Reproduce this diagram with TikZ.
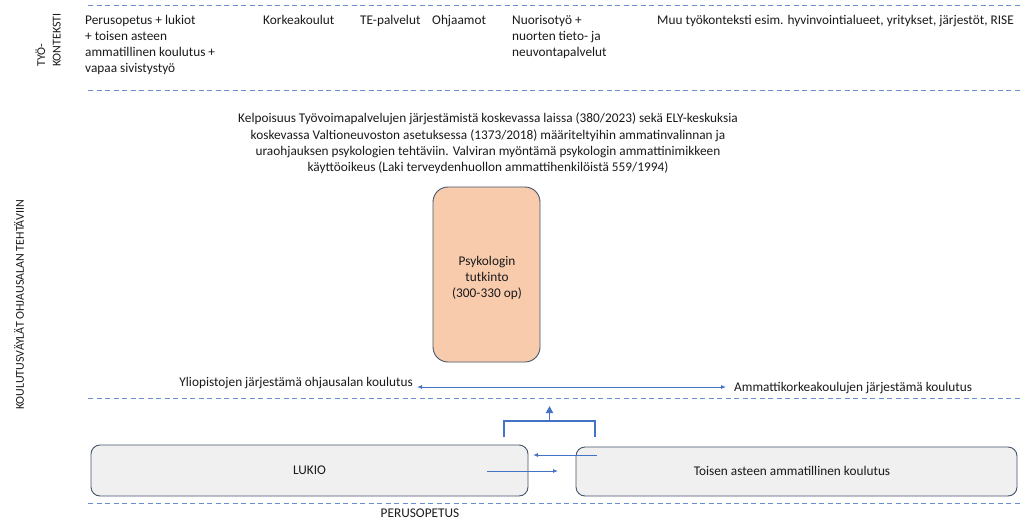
\documentclass[tikz,border=0pt]{standalone}
\usepackage{fontspec}
\setmainfont{Carlito}
\usetikzlibrary{arrows.meta}
\definecolor{accblue}{HTML}{4472C4}
\definecolor{peach}{HTML}{F8CBAD}
\definecolor{boxgray}{HTML}{F0F0F0}
\definecolor{edgedark}{HTML}{44546A}
\definecolor{txt}{HTML}{1A1A1A}
\tikzset{
  lbl/.style={font=\fontsize{13.3}{15.7}\selectfont, text=txt, inner sep=0pt},
  paralbl/.style={font=\fontsize{13.3}{16.1}\selectfont, text=txt, inner sep=0pt},
  sidelbl/.style={font=\fontsize{12}{15.5}\selectfont, text=txt, inner sep=0pt},
  sepline/.style={accblue!80, line width=1pt, dash pattern=on 5pt off 3.5pt},
  flowarrow/.style={accblue, line width=0.9pt, -{Latex[length=5pt,width=4pt]}},
  bracketline/.style={accblue, line width=1.8pt},
  roundbox/.style={draw=edgedark, line width=0.9pt, rounded corners=9pt, fill=boxgray}
}
\begin{document}
\begin{tikzpicture}[x=1pt,y=-1pt]
\useasboundingbox (0,0) rectangle (1021,520);
% separator lines
\draw[sepline] (88,5) -- (1021,5);
\draw[sepline] (88,90) -- (1021,90);
\draw[sepline] (88,398) -- (1021,398);
\draw[sepline] (88,503) -- (1021,503);
% side titles
\node[sidelbl, rotate=90, align=left, anchor=center] (tyo) at (48,40) {TYÖ-\\KONTEKSTI};
\node[sidelbl, rotate=90, anchor=center] (koul) at (19,305) {KOULUTUSVÄYLÄT OHJAUSALAN TEHTÄVIIN};
% top row
\node[lbl, align=left, anchor=north west] (peru) at (85,15.5) {Perusopetus + lukiot\\+ toisen asteen\\ammatillinen koulutus +\\vapaa sivistystyö};
\node[lbl, anchor=north west] (korkea) at (263,15.5) {Korkeakoulut};
\node[lbl, anchor=north west] (te) at (360,15.5) {TE-palvelut};
\node[lbl, anchor=north west] (ohj) at (432,15.5) {Ohjaamot};
\node[lbl, align=left, anchor=north west] (nuor) at (512,15.5) {Nuorisotyö +\\nuorten tieto- ja\\neuvontapalvelut};
\node[lbl, anchor=north west] (muu) at (657,15.5) {Muu työkonteksti esim. hyvinvointialueet, yritykset, järjestöt, RISE};
% paragraph
\node[paralbl, align=center, anchor=north] (kelp) at (488,113) {Kelpoisuus Työvoimapalvelujen järjestämistä koskevassa laissa (380/2023) sekä ELY-keskuksia\\koskevassa Valtioneuvoston asetuksessa (1373/2018) määriteltyihin ammatinvalinnan ja\\uraohjauksen psykologien tehtäviin. Valviran myöntämä psykologin ammattinimikkeen\\käyttöoikeus (Laki terveydenhuollon ammattihenkilöistä 559/1994)};
% psychology box
\node[draw=edgedark, line width=0.9pt, fill=peach, rounded corners=15pt, minimum width=107pt, minimum height=175pt, inner sep=0pt] (psy) at (486.5,274.5) {};
\node[lbl, align=center] (psytxt) at (487,278) {Psykologin\\tutkinto\\(300-330 op)};
% university row
\node[lbl, anchor=east] (yo) at (413,383) {Yliopistojen järjestämä ohjausalan koulutus};
\node[lbl, anchor=west] (amk) at (734,388) {Ammattikorkeakoulujen järjestämä koulutus};
\coordinate (la) at (417,387);
\coordinate (ra) at (726,387);
\draw[accblue, line width=0.9pt, {Latex[length=5pt,width=4pt]}-{Latex[length=5pt,width=4pt]}] (la) -- (ra);
% bottom boxes
\node[roundbox, minimum width=437pt, minimum height=51pt, inner sep=0pt] (lukio) at (309.5,470.5) {};
\node[lbl] at (lukio.center) {LUKIO};
\node[roundbox, minimum width=441pt, minimum height=49pt, inner sep=0pt] (toinen) at (796.5,471.5) {};
\node[lbl] at (792,471) {Toisen asteen ammatillinen koulutus};
% bracket
\coordinate (bl) at (504,437);
\coordinate (br) at (595,437);
\coordinate (bm) at (549.5,421);
\coordinate (btop) at (549.5,406);
\draw[bracketline] (bl) -- (504,421) -- (595,421) -- (br);
\draw[accblue, line width=1.8pt, -{Triangle[length=7pt,width=7pt]}] (bm) -- (btop);
% exchange arrows
\coordinate (a1s) at (597,455);
\coordinate (a1e) at (533,455);
\coordinate (a2s) at (487,471);
\coordinate (a2e) at (558,471);
\draw[flowarrow] (a1s) -- (a1e);
\draw[flowarrow] (a2s) -- (a2e);
% bottom label
\node[lbl] (perus) at (420,513) {PERUSOPETUS};
\end{tikzpicture}
\end{document}
